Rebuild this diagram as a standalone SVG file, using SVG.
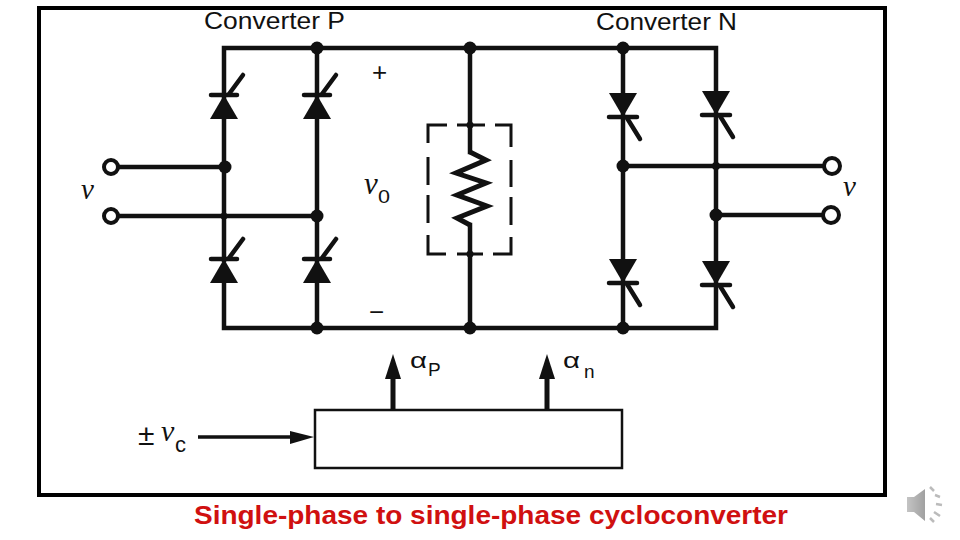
<svg xmlns="http://www.w3.org/2000/svg" width="960" height="540" viewBox="0 0 960 540">
<style>
.w{fill:none;stroke:#111;stroke-width:4.5;stroke-linejoin:miter;stroke-linecap:square}
.g{fill:none;stroke:#111;stroke-width:4.5;stroke-linecap:round}
.f{fill:#111;stroke:none}
.t{font-family:"Liberation Sans",Arial,sans-serif;fill:#111}
.s{font-family:"Liberation Serif","Times New Roman",serif;font-style:italic;fill:#111}
.term{fill:#fff;stroke:#111;stroke-width:4}
</style>
<defs>
<g id="thyP"><path class="f" d="M-14 24L14 24L0 0Z"/><path class="g" d="M-13 0H13"/><path class="g" d="M5 -1L19 -20"/></g>
<g id="thyN"><path class="f" d="M-14 -24L14 -24L0 0Z"/><path class="g" d="M-14 0H14"/><path class="g" d="M4 1L17 22"/></g>
<g id="dotj"><circle class="f" r="6.5"/></g>
<linearGradient id="spk" x1="0" x2="1" y1="0" y2="0"><stop offset="0" stop-color="#c4c4c4"/><stop offset="1" stop-color="#a0a0a0"/></linearGradient>
</defs>
<rect id="frame" x="39" y="8" width="846" height="487" fill="none" stroke="#000" stroke-width="4"/>
<g id="connectors">
<path class="w" d="M224 117V48H716V328H224V283"/>
<path class="w" d="M224 117V260"/>
<path class="w" d="M317 48V328"/>
<path class="w" d="M470 48V152M470 225V328"/>
<path class="w" d="M623 48V328"/>
<path class="w" d="M118 167H224M118 216H317"/>
<path class="w" d="M623 166H825M716 215H825"/>
<path d="M470 152L486 160L456 173L486 183L457 195L487 206L457 218L470 225" fill="none" stroke="#111" stroke-width="5" stroke-linejoin="miter"/>
<path d="M428 143V125H447M457 125H485M495 125H511V147M428 157V185M428 195V223M428 235V254H446M457 254H483M493 254H511V237M511 160V187M511 197V225" fill="none" stroke="#111" stroke-width="3"/>
<path class="f" d="M393 354L401 379H385Z"/>
<path class="f" d="M547 354L555 379H539Z"/>
<path d="M393 378V410M547 378V410" stroke="#111" stroke-width="5" fill="none"/>
<path d="M198 437H292" stroke="#111" stroke-width="3.5" fill="none"/>
<path class="f" d="M314 437L290 431V444Z"/>
</g>
<g id="junctions">
<use href="#dotj" x="317" y="48"/><use href="#dotj" x="470" y="48"/><use href="#dotj" x="623" y="48"/>
<use href="#dotj" x="317" y="328"/><use href="#dotj" x="470" y="328"/><use href="#dotj" x="623" y="328"/>
<use href="#dotj" x="225" y="167"/><use href="#dotj" x="317" y="216"/>
<use href="#dotj" x="623" y="166"/><use href="#dotj" x="716" y="215"/>
<circle class="f" cx="224" cy="216" r="3.5"/><circle class="f" cx="716" cy="166" r="4"/>
<circle class="f" cx="470" cy="125" r="3.5"/><circle class="f" cx="470" cy="254" r="3.5"/>
</g>
<g id="thyristor-p1"><use href="#thyP" x="224" y="95"/></g>
<g id="thyristor-p2"><use href="#thyP" x="317" y="95"/></g>
<g id="thyristor-p3"><use href="#thyP" x="224" y="259"/></g>
<g id="thyristor-p4"><use href="#thyP" x="317" y="259"/></g>
<g id="thyristor-n1"><use href="#thyN" x="623" y="117"/></g>
<g id="thyristor-n2"><use href="#thyN" x="716" y="115"/></g>
<g id="thyristor-n3"><use href="#thyN" x="623" y="283"/></g>
<g id="thyristor-n4"><use href="#thyN" x="716" y="285"/></g>
<g id="terminals">
<circle class="term" cx="111" cy="167" r="7"/><circle class="term" cx="111" cy="216" r="7"/>
<circle class="term" cx="832" cy="166" r="8"/><circle class="term" cx="831" cy="215" r="8"/>
</g>
<g id="control-block"><rect x="315" y="410" width="307" height="58" fill="#fff" stroke="#111" stroke-width="2.5"/></g>
<g id="labels">
<text class="t" x="204" y="29" font-size="24" textLength="141" lengthAdjust="spacingAndGlyphs">Converter P</text>
<text class="t" x="596" y="30" font-size="24" textLength="141" lengthAdjust="spacingAndGlyphs">Converter N</text>
<text class="t" x="372" y="81" font-size="26">+</text>
<text class="t" x="369" y="321" font-size="26">−</text>
<text class="s" x="81" y="199" font-size="29">v</text>
<text class="s" x="843" y="196" font-size="29">v</text>
<text class="s" x="364" y="194" font-size="31">v</text>
<text class="t" x="378" y="203" font-size="19" textLength="12" lengthAdjust="spacingAndGlyphs">0</text>
<text class="t" x="138" y="445" font-size="30">±</text>
<text class="s" x="161" y="441" font-size="30">v</text>
<text class="t" x="175" y="452" font-size="22">c</text>
<text class="t" x="410" y="368" font-size="22" textLength="17" lengthAdjust="spacingAndGlyphs">α</text>
<text class="t" x="428" y="376" font-size="19">P</text>
<text class="t" x="563" y="368" font-size="22" textLength="17" lengthAdjust="spacingAndGlyphs">α</text>
<text class="t" x="584" y="378" font-size="19">n</text>
<text x="194" y="524" font-family="Liberation Sans,Arial,sans-serif" font-weight="700" font-size="25.5" fill="#d01010" textLength="594" lengthAdjust="spacingAndGlyphs">Single-phase to single-phase cycloconverter</text>
</g>
<g id="speaker-icon">
<path d="M907 497H914L925 489V521L914 512H907Z" fill="url(#spk)"/>
<path d="M930 487L934 491M935 495L940 497M936 504L942 505M934 512L940 516M930 518L934 522" stroke="#bbb" stroke-width="2.5" fill="none"/>
</g>
</svg>
